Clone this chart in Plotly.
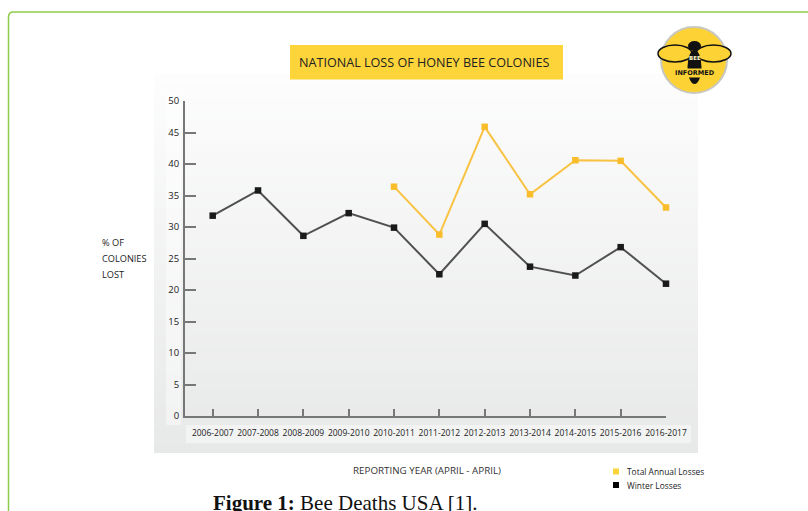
import plotly.graph_objects as go

# Reporting years (April - April)
years = ["2006-2007", "2007-2008", "2008-2009", "2009-2010", "2010-2011", "2011-2012",
         "2012-2013", "2013-2014", "2014-2015", "2015-2016", "2016-2017"]

# Percent of colonies lost
winter_losses = [31.8, 35.8, 28.6, 32.2, 29.9, 22.5, 30.5, 23.7, 22.3, 26.8, 21.0]
total_annual_losses = [None, None, None, None, 36.4, 28.8, 45.9, 35.2, 40.6, 40.5, 33.1]

series_names = ["Total Annual Losses", "Winter Losses"]

y_ticks = list(range(0, 51, 5))

W, H = 808, 511
L, R, T, B = 185, 666, 101, 416

YELLOW = "#fdd43a"
LINE_YELLOW = "#f8c242"
GRAY_LINE = "#777777"


def px(x):
    return (x - L) / (R - L)


def py(y):
    return (B - y) / (B - T)


def rgb(c):
    return "rgb(%d,%d,%d)" % c


def label(text, x, y, size, color="#222222", family="Open Sans", xanchor="center",
          yanchor="middle", **kw):
    return dict(text=text, x=px(x), y=py(y), xref="paper", yref="paper",
                xanchor=xanchor, yanchor=yanchor, showarrow=False,
                font=dict(family=family, size=size, color=color), **kw)


fig = go.Figure()

fig.add_trace(go.Scatter(
    x=list(range(len(years))), y=total_annual_losses, mode="lines+markers",
    name=series_names[0],
    line=dict(color=LINE_YELLOW, width=2),
    marker=dict(symbol="square", size=6.5, color="#f9bd2b"),
    cliponaxis=False, showlegend=False,
))
fig.add_trace(go.Scatter(
    x=list(range(len(years))), y=winter_losses, mode="lines+markers",
    name=series_names[1],
    line=dict(color="#505050", width=2),
    marker=dict(symbol="square", size=6.5, color="#1a1a1a"),
    cliponaxis=False, showlegend=False,
))

shapes = []

# soft vertical gradient panel behind the chart
top_px, bot_px, left_px, right_px = 74, 453, 154, 698
n = 48
c0, c1 = (253, 253, 253), (231, 232, 232)
for i in range(n):
    y0 = top_px + (bot_px - top_px) * i / n
    y1 = top_px + (bot_px - top_px) * (i + 1) / n + 0.6
    t = (i + 0.5) / n
    c = tuple(round(c0[k] + (c1[k] - c0[k]) * t) for k in range(3))
    shapes.append(dict(type="rect", xref="paper", yref="paper", layer="below",
                       x0=px(left_px), x1=px(right_px), y0=py(min(y1, bot_px)), y1=py(y0),
                       fillcolor=rgb(c), line=dict(width=0)))

# lighter strips behind the tick labels
shapes.append(dict(type="rect", xref="paper", yref="paper", layer="below",
                   x0=px(166), x1=px(181), y0=py(425), y1=py(92),
                   fillcolor="rgba(255,255,255,0.45)", line=dict(width=0)))
shapes.append(dict(type="rect", xref="paper", yref="paper", layer="below",
                   x0=px(186), x1=px(691), y0=py(443), y1=py(425),
                   fillcolor="rgba(255,255,255,0.45)", line=dict(width=0)))

# title box
shapes.append(dict(type="rect", xref="paper", yref="paper",
                   x0=px(290), x1=px(563), y0=py(79.5), y1=py(45),
                   fillcolor=YELLOW, line=dict(width=0)))

# green frame with a rounded corner
r = 5
fx, fy = 8.5, 12
frame_path = "M {a},{b} L {a},{c} Q {a},{d} {e},{d} L {f},{d}".format(
    a=px(fx), b=py(H + 20), c=py(fy + r), d=py(fy), e=px(fx + r), f=px(W + 20))
shapes.append(dict(type="path", xref="paper", yref="paper", path=frame_path,
                   line=dict(color="#8fcb4a", width=1.5)))

# Bee Informed badge
cx, cy, rr = 694, 60, 33
shapes.append(dict(type="circle", xref="paper", yref="paper",
                   x0=px(cx - rr), x1=px(cx + rr), y0=py(cy + rr), y1=py(cy - rr),
                   fillcolor="#fcd235", line=dict(color="#c8c8c0", width=2)))
for wx0, wx1 in [(658, 692), (696, 731)]:
    shapes.append(dict(type="circle", xref="paper", yref="paper",
                       x0=px(wx0), x1=px(wx1), y0=py(62), y1=py(45),
                       fillcolor="#fcd235", line=dict(color="#111111", width=1.5)))
shapes.append(dict(type="circle", xref="paper", yref="paper",
                   x0=px(688), x1=px(701), y0=py(51), y1=py(41),
                   fillcolor="#111111", line=dict(width=0)))
shapes.append(dict(type="circle", xref="paper", yref="paper",
                   x0=px(687.5), x1=px(701.5), y0=py(84), y1=py(50),
                   fillcolor="#111111", line=dict(width=0)))

# legend keys
key_colors = [YELLOW, "#000000"]
key_rows = [471.5, 485]
for col, ky in zip(key_colors, key_rows):
    shapes.append(dict(type="rect", xref="paper", yref="paper",
                       x0=px(613), x1=px(619), y0=py(ky + 3), y1=py(ky - 3),
                       fillcolor=col, line=dict(width=0)))

annotations = [
    label("NATIONAL LOSS OF HONEY BEE COLONIES", 423.5, 62.5, 12.6),
    label("<b>BEE</b>", 694.5, 58, 5.5, color="#fff6c8", family="DejaVu Sans"),
    label("<b>INFORMED</b>", 695, 72.5, 6.5, color="#111111", family="DejaVu Sans",
          bgcolor="#fcd235", borderpad=0),
    label("REPORTING YEAR (APRIL - APRIL)", 426.5, 470, 9.8, color="#333333"),
    label("<b>Figure 1:</b> Bee Deaths USA [1].", 211, 489, 21, color="#111111",
          family="Liberation Serif", xanchor="left", yanchor="top"),
]
for line_text, ly in zip(["% OF", "COLONIES", "LOST"], [242.5, 258.5, 274.5]):
    annotations.append(label(line_text, 100, ly, 9.2, xanchor="left"))
for name, ky in zip(series_names, key_rows):
    annotations.append(label(name, 625, ky, 8.4, xanchor="left"))

fig.update_layout(
    width=W, height=H,
    margin=dict(l=L, r=W - R, t=T, b=H - B, pad=0),
    paper_bgcolor="white", plot_bgcolor="rgba(0,0,0,0)",
    shapes=shapes, annotations=annotations,
    showlegend=False,
    xaxis=dict(range=[-0.611, 10], tickmode="array", tickvals=list(range(len(years))),
               ticktext=years, showgrid=False, zeroline=False,
               showline=True, linecolor=GRAY_LINE, linewidth=2,
               ticks="inside", ticklen=7, tickwidth=2, tickcolor=GRAY_LINE,
               tickfont=dict(family="Open Sans", size=8.5, color="#222222"),
               ticklabelstandoff=8, fixedrange=True),
    yaxis=dict(range=[0, 50], tickmode="array", tickvals=y_ticks,
               showgrid=False, zeroline=False,
               showline=True, linecolor=GRAY_LINE, linewidth=2,
               ticks="inside", ticklen=11, tickwidth=2, tickcolor=GRAY_LINE,
               tickfont=dict(family="Open Sans", size=9.5, color="#222222"),
               ticklabelstandoff=2, fixedrange=True),
)

fig.write_html("out.html")
